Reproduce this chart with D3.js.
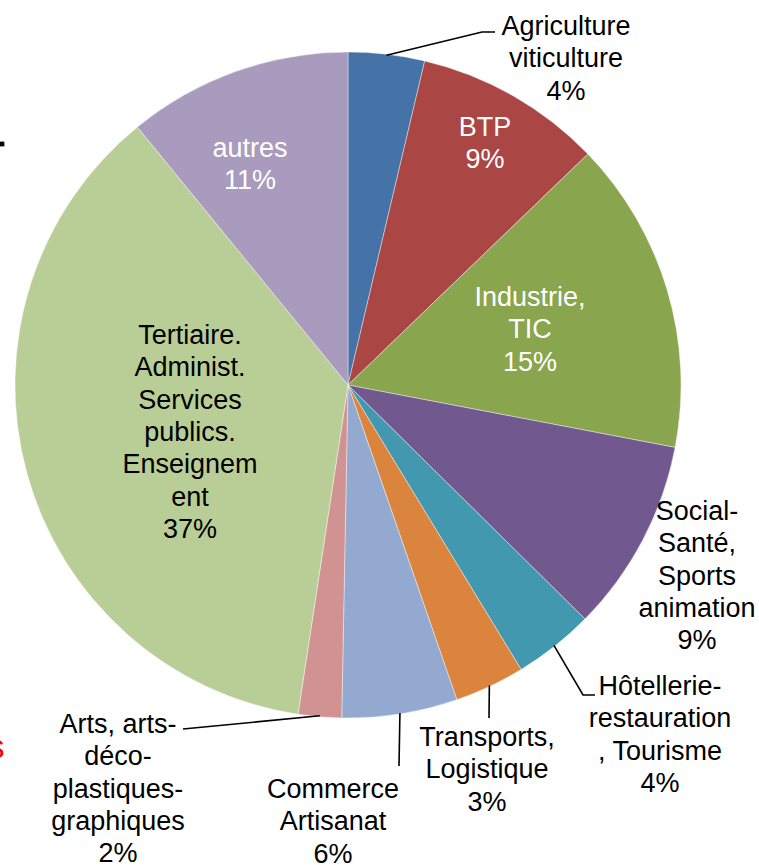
<!DOCTYPE html>
<html>
<head>
<meta charset="utf-8">
<script src="https://cdn.jsdelivr.net/npm/d3@7"></script>
<style>
  body { margin: 0; background: #fff; }
  svg { display: block; font-family: 'Liberation Sans', Arial, sans-serif; }
</style>
</head>
<body>
<main></main>
<script>
// secteurs, dans l'ordre du camembert (sens horaire depuis midi)
const categories = [
  'Agriculture viticulture',
  'BTP',
  'Industrie, TIC',
  'Social-Santé, Sports animation',
  'Hôtellerie-restauration, Tourisme',
  'Transports, Logistique',
  'Commerce Artisanat',
  'Arts, arts-déco-plastiques-graphiques',
  'Tertiaire. Administ. Services publics. Enseignement',
  'autres'
];
const values = [3.7, 9.1, 15.2, 9.4, 3.9, 3.4, 5.6, 2.1, 36.7, 10.9];

// lignes de texte comme dans le graphique d'origine (sans le pourcentage)
const labelLines = [
  ['Agriculture', 'viticulture'],
  ['BTP'],
  ['Industrie,', 'TIC'],
  ['Social-', 'Santé,', 'Sports', 'animation'],
  ['Hôtellerie-', 'restauration', ', Tourisme'],
  ['Transports,', 'Logistique'],
  ['Commerce', 'Artisanat'],
  ['Arts, arts-', 'déco-', 'plastiques-', 'graphiques'],
  ['Tertiaire.', 'Administ.', 'Services', 'publics.', 'Enseignem', 'ent'],
  ['autres']
];

const colors = ['#4572A7', '#AA4643', '#89A54E', '#71588F', '#4198AF',
                '#DB843D', '#93A9CF', '#D19392', '#B9CD96', '#A99BBD'];

// placement des étiquettes (x centre, y premiere ligne, couleur, coude du trait)
const layout = [
  { x: 566, y: 35, fill: '#000', elbow: [[482, 32], [495, 32]] },
  { x: 485, y: 136, fill: '#fff' },
  { x: 530, y: 306, fill: '#fff' },
  { x: 697, y: 520, fill: '#000' },
  { x: 660, y: 695, fill: '#000', elbow: [[583, 695], [595, 695]] },
  { x: 487, y: 746, fill: '#000', elbow: [[489, 718]] },
  { x: 333, y: 798, fill: '#000', elbow: [[399, 766]] },
  { x: 118, y: 733, fill: '#000', elbow: [[183, 729]] },
  { x: 190, y: 344, fill: '#000' },
  { x: 250, y: 157, fill: '#fff' }
];

const width = 759;
const height = 865;
const cx = 348;
const cy = 385;
const radius = 333;
const lineH = 32.3;

const data = categories.map((c, i) => ({ name: c, value: values[i], i: i }));
const total = d3.sum(values);
const fmt = d3.format('.0%');

const svg = d3
  .select('main')
  .append('svg')
  .attr('width', width)
  .attr('height', height);

const pie = d3.pie().sort(null).value(d => d.value);
const arc = d3.arc().innerRadius(0).outerRadius(radius);
const arcs = pie(data);

const g = svg.append('g').attr('transform', `translate(${cx}, ${cy})`);

g.selectAll('path')
  .data(arcs)
  .enter()
  .append('path')
  .attr('d', arc)
  .attr('fill', d => colors[d.data.i])
  .attr('stroke', '#fff')
  .attr('stroke-opacity', 0.5)
  .attr('stroke-width', 0.8);

// traits de rappel
const line = d3.line();
arcs.forEach(d => {
  const l = layout[d.data.i];
  if (!l.elbow) return;
  const a = (d.startAngle + d.endAngle) / 2;
  const start = [cx + Math.sin(a) * (radius - 1), cy - Math.cos(a) * (radius - 1)];
  svg
    .append('path')
    .attr('d', line([start].concat(l.elbow)))
    .attr('fill', 'none')
    .attr('stroke', '#000')
    .attr('stroke-width', 1.6);
});

// étiquettes
arcs.forEach(d => {
  const l = layout[d.data.i];
  const lines = labelLines[d.data.i].concat([fmt(d.data.value / total)]);
  const t = svg
    .append('text')
    .attr('text-anchor', 'middle')
    .attr('font-size', 27)
    .attr('fill', l.fill);
  t.selectAll('tspan')
    .data(lines)
    .enter()
    .append('tspan')
    .attr('x', l.x)
    .attr('y', (s, k) => l.y + k * lineH)
    .text(s => s);
});

// restes de texte coupés au bord gauche de la diapo
svg.append('text')
  .attr('x', -14)
  .attr('y', 172)
  .attr('font-size', 58)
  .attr('fill', '#000')
  .text('r');

svg.append('text')
  .attr('x', -12)
  .attr('y', 758)
  .attr('font-size', 33)
  .attr('fill', '#ff0000')
  .text('s');
</script>
</body>
</html>
